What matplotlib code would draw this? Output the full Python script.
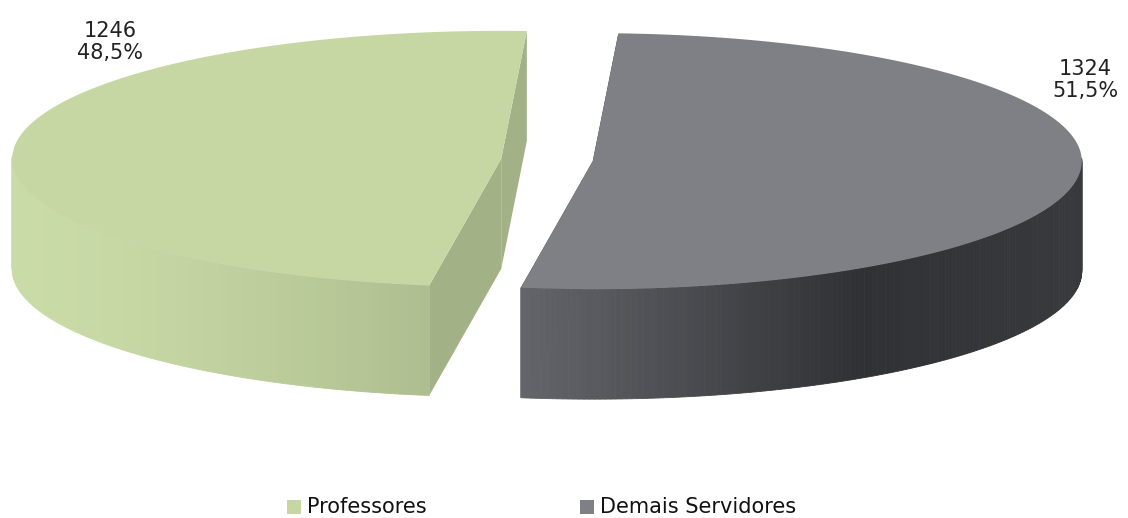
import numpy as np
import matplotlib.pyplot as plt
from matplotlib.patches import Polygon, Rectangle
import matplotlib.colors as mc

labels = ["Professores", "Demais Servidores"]
values = [1246, 1324]
pct_labels = ["48,5%", "51,5%"]

top_cols = ["#c6d7a4", "#7e8085"]
side_light = ["#c9dba6", "#63656a"]
side_dark = ["#a2b186", "#2f3135"]

W, H = 1128, 518
fig = plt.figure(figsize=(W / 100, H / 100), dpi=100)
ax = fig.add_axes([0, 0, 1, 1])
ax.set_xlim(0, W)
ax.set_ylim(H, 0)
ax.axis("off")

cx, cy, rx, ry, depth = 547, 160, 489, 128, 110
start = 87.0
total = sum(values)
fracs = [v / total for v in values]
# Professores counterclockwise from start, Demais clockwise
spans = [(start, start + 360 * fracs[0]), (start - 360 * fracs[1], start)]
expl = 46


def pt(a, dx, dy):
    r = np.radians(a)
    return cx + dx + rx * np.cos(r), cy + dy - ry * np.sin(r)


for i, (a1, a2) in enumerate(spans):
    mid = np.radians((a1 + a2) / 2)
    dx, dy = expl * np.cos(mid), -expl * 0.25 * np.sin(mid)
    c = (cx + dx, cy + dy)
    xs = [pt(a, dx, dy)[0] for a in np.linspace(a1, a2, 300)]
    xmin, xmax = min(xs), max(xs)
    # cut faces
    for a in (a1, a2):
        p = pt(a, dx, dy)
        face = [c, p, (p[0], p[1] + depth), (c[0], c[1] + depth)]
        ax.add_patch(Polygon(face, closed=True, fc=side_dark[i], ec="none", zorder=2))
    # outer wall with gradient
    angs = np.linspace(a1, a2, 300)
    for j in range(len(angs) - 1):
        am = (angs[j] + angs[j + 1]) / 2
        if np.sin(np.radians(am)) > 0.02:
            continue
        p1, p2 = pt(angs[j], dx, dy), pt(angs[j + 1], dx, dy)
        t = float(np.clip((p1[0] - xmin) / (xmax - xmin), 0, 1))
        if i == 0:
            t = t ** 1.6
        else:
            t = min(1.0, t / 0.6) if t < 0.6 else 1 - (t - 0.6) * 0.4
        col = np.array(mc.to_rgb(side_light[i])) * (1 - t) + np.array(mc.to_rgb(side_dark[i])) * t
        quad = [p1, p2, (p2[0], p2[1] + depth), (p1[0], p1[1] + depth)]
        ax.add_patch(Polygon(quad, closed=True, fc=col, ec=col, lw=0.6, zorder=3))
    # top
    top = [c] + [pt(a, dx, dy) for a in angs]
    ax.add_patch(Polygon(top, closed=True, fc=top_cols[i], ec="none", zorder=4))

ax.text(110, 42, f"{values[0]}\n{pct_labels[0]}", ha="center", va="center",
        fontsize=15, color="#222222", linespacing=1.1)
ax.text(1085, 80, f"{values[1]}\n{pct_labels[1]}", ha="center", va="center",
        fontsize=15, color="#222222", linespacing=1.1)

# legend
for x0, lab, col in [(287, labels[0], top_cols[0]), (580, labels[1], top_cols[1])]:
    ax.add_patch(Rectangle((x0, 500), 14, 14, fc=col, ec="none"))
    ax.text(x0 + 20, 507, lab, ha="left", va="center", fontsize=15, color="#111111")

fig.savefig("out.png", dpi=100)
